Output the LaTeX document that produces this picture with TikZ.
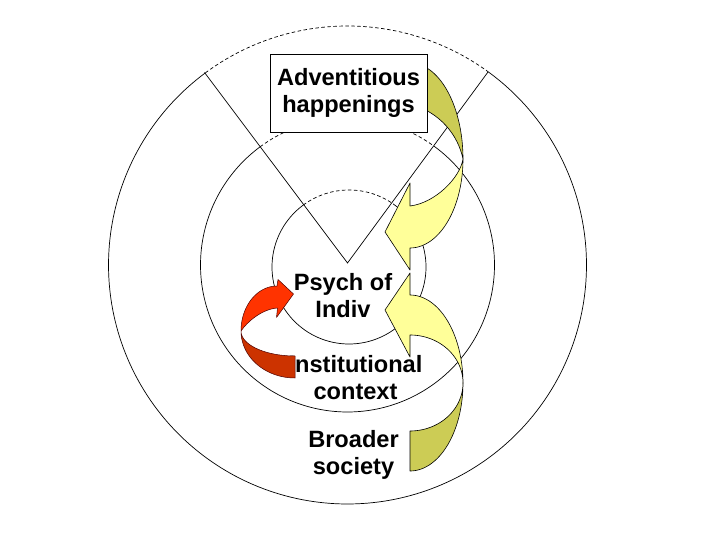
\documentclass[tikz,border=0pt]{standalone}
\usepackage{fontspec}
\setmainfont{Liberation Sans}
\definecolor{yfr}{HTML}{FFFF99}
\definecolor{ybk}{HTML}{CCCC55}
\definecolor{rfr}{HTML}{FF3300}
\definecolor{rbk}{HTML}{CC3300}
\begin{document}
\begin{tikzpicture}[x=1pt,y=-1pt,
  ring/.style={line width=0.7pt},
  ringdash/.style={line width=0.7pt, dash pattern=on 3.5pt off 2.5pt},
  lbl/.style={font=\fontsize{23.6}{27}\selectfont\bfseries, align=center, inner sep=0pt},
  boxnode/.style={lbl, draw, fill=white, line width=0.8pt, minimum width=157pt, minimum height=78pt},
  yfront/.style={fill=yfr, draw=black, line width=0.6pt, line join=round},
  yback/.style={fill=ybk, draw=black, line width=0.6pt, line join=round},
  rfront/.style={fill=rfr, draw=black!70!red, line width=0.5pt, line join=round},
  rback/.style={fill=rbk, draw=black!70!red, line width=0.5pt, line join=round}]
\fill[white] (0,0) rectangle (720,540);
\useasboundingbox (0,0) rectangle (720,540);

% rings: solid outside the wedge, dashed inside it
\foreach \cx/\cy/\r in {347.5/265/239, 347.5/265/147, 349/267/77}{
  \draw[ring] plot[domain=-54:233.5, samples=220] ({\cx+\r*cos(\x)},{\cy+\r*sin(\x)});
  \draw[ringdash] plot[domain=-126.5:-54, samples=80] ({\cx+\r*cos(\x)},{\cy+\r*sin(\x)});
}

% wedge
\coordinate (V) at (347.5,263);
\coordinate (WL) at (204.5,72.5);
\coordinate (WR) at (488,72);
\draw[ring] (WL) -- (V) -- (WR);

% labels
\node[lbl] (psych) at (343,296) {Psych of\\Indiv};
\node[lbl] (inst) at (355.5,378) {Institutional\\context};
\node[lbl] (broad) at (353.5,454.5) {Broader\\society};

% top curved arrow (Adventitious -> Psych)
\draw[yback] (463,159) -- plot[domain=0:90, samples=40] ({410+53*cos(\x)},{159-96*sin(\x)})
  -- (410,104) .. controls (440,112) and (458,135) .. (463,159) -- cycle;
\draw[yfront] (463,159) -- plot[domain=0:90, samples=40] ({410+53*cos(\x)},{159+89*sin(\x)})
  -- (410,270) -- (385,232) -- (410,183) -- (410,206)
  .. controls (435,203) and (460,178) .. (463,159) -- cycle;

% bottom curved arrow (Broader society -> Psych)
\draw[yback] (463,383) -- plot[domain=0:90, samples=40] ({410+53*cos(\x)},{383+88*sin(\x)})
  -- (410,431) -- plot[domain=0:90, samples=40] ({410+53*sin(\x)},{383+48*cos(\x)}) -- cycle;
\draw[yfront] (463,383) -- plot[domain=0:90, samples=40] ({410+53*cos(\x)},{383-88*sin(\x)})
  -- (410,273) -- (385,310) -- (410,357) -- (410,335)
  -- plot[domain=0:90, samples=40] ({410+53*sin(\x)},{383-48*cos(\x)}) -- cycle;

% red curved arrow (Institutional -> Psych)
\draw[rback] (241,331) -- plot[domain=0:90, samples=40] ({295-54*cos(\x)},{331+47*sin(\x)})
  -- (295,356) -- plot[domain=0:90, samples=40] ({295-54*sin(\x)},{331+25*cos(\x)}) -- cycle;
\draw[rfront] (241,331) -- plot[domain=0:90, samples=40] ({277-36*cos(\x)},{331-45*sin(\x)})
  -- (278,279.5) -- (293.5,294) -- (276.5,317.5) -- (277.5,308)
  .. controls (262,309) and (247,322) .. (241,331) -- cycle;

% box
\node[boxnode] (adv) at (348.5,93.3) {Adventitious\\happenings};
\end{tikzpicture}
\end{document}
